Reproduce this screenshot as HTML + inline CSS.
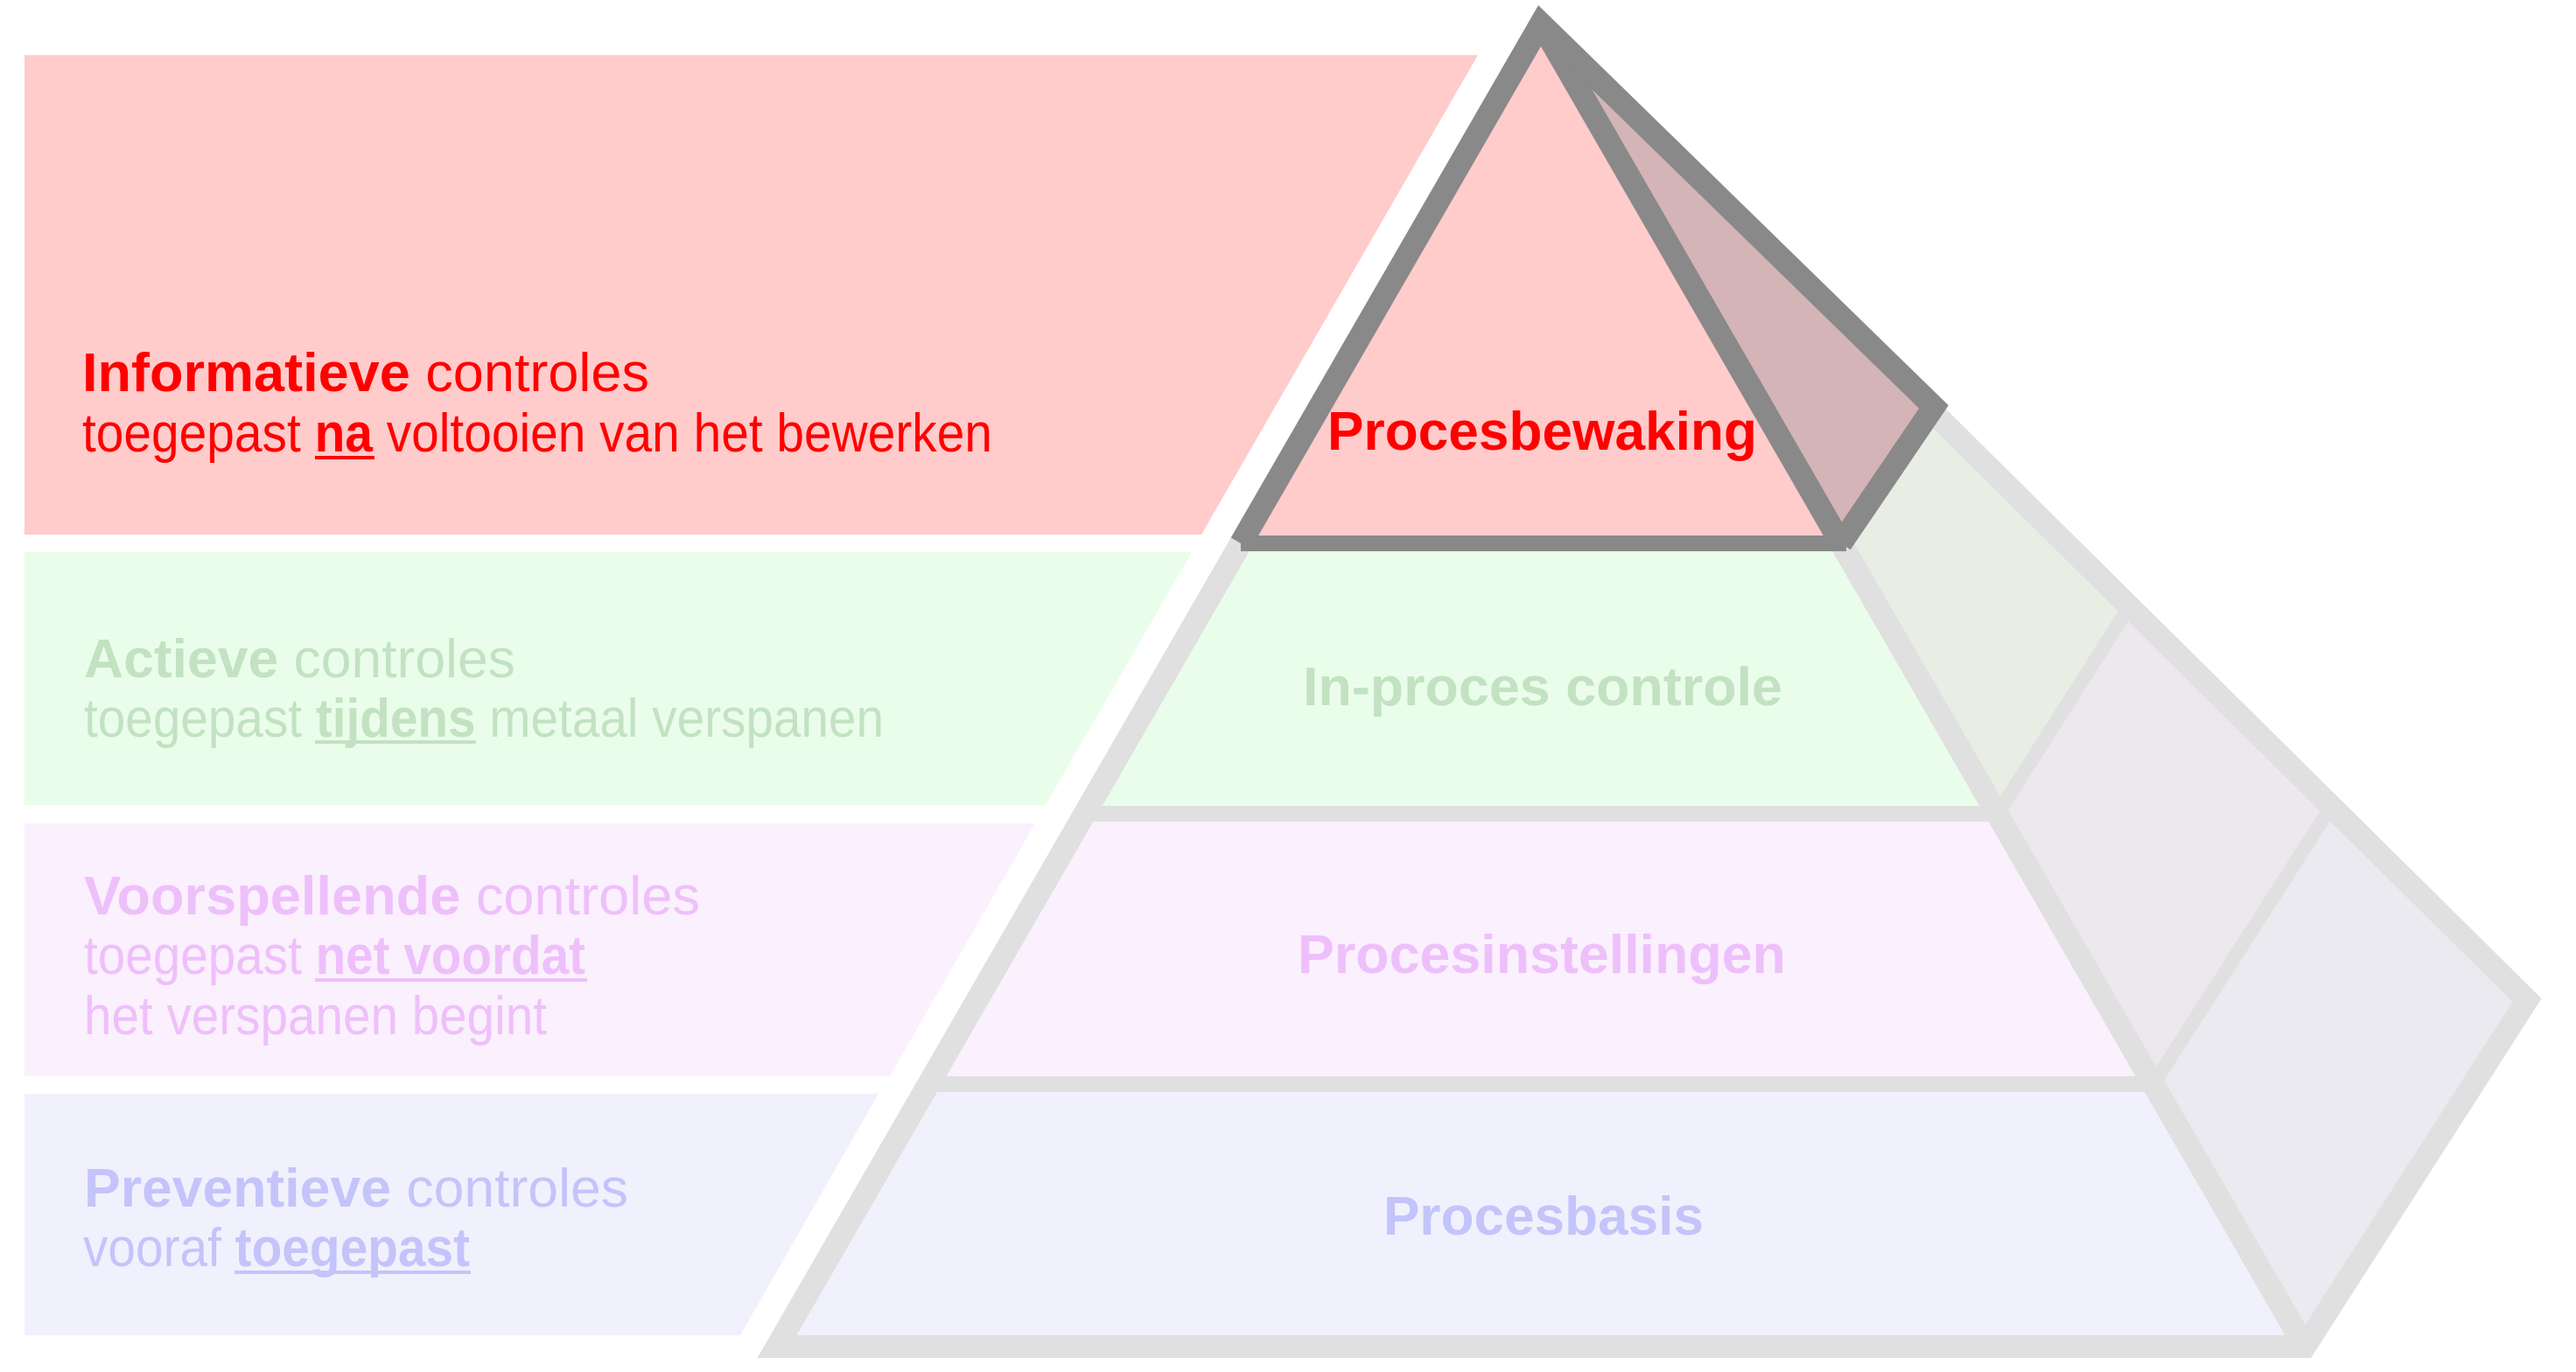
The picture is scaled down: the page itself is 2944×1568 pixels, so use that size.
<!DOCTYPE html>
<html><head><meta charset="utf-8"><style>
html,body{margin:0;padding:0;background:#fff;}
svg{display:block;}
text{font-family:"Liberation Sans",Arial,sans-serif;font-size:62px;}
</style></head><body>
<svg width="2944" height="1568" viewBox="0 0 2944 1568" xmlns="http://www.w3.org/2000/svg">
<rect width="2944" height="1568" fill="#fff"/>
<polygon points="28,63 1689,63 1373,611 28,611" fill="#ffcbcb"/>
<polygon points="28,631 1362,631 1195,920 28,920" fill="#eafdea"/>
<polygon points="28,941 1183,941 1017,1230 28,1230" fill="#fbf0fd"/>
<polygon points="28,1250 1004,1250 846,1526 28,1526" fill="#f1f1fd"/>

<polygon points="1418,621 2104,621 2283,930 1239,930" fill="#eafdea"/>
<polygon points="1239,930 2283,930 2461,1239 1061,1239" fill="#fbf0fd"/>
<polygon points="1061,1239 2461,1239 2634,1539 888,1539" fill="#f1f1fd"/>
<polygon points="2104,621 2203,465 2433,694 2283,930" fill="#e8eee4"/>
<polygon points="2283,930 2433,694 2664,922 2461,1239" fill="#ede8ee"/>
<polygon points="2461,1239 2664,922 2888,1143 2634,1539" fill="#ebeaf0"/>

<g stroke="#e0e0e0" fill="none" stroke-linejoin="miter" stroke-miterlimit="10">
<line x1="1239" y1="930" x2="2283" y2="930" stroke-width="18"/>
<line x1="1061" y1="1239" x2="2461" y2="1239" stroke-width="18"/>
<line x1="2283" y1="930" x2="2433" y2="694" stroke-width="16"/>
<line x1="2461" y1="1239" x2="2664" y2="922" stroke-width="16"/>
<line x1="2104" y1="621" x2="2634" y2="1539" stroke-width="26"/>
<path d="M1418,621 L888,1539 L2634,1539 L2888,1143 L2203,465" stroke-width="26"/>
</g>

<polygon points="1761,27 1418,621 2104,621" fill="#ffcbcb"/>
<polygon points="1761,27 2203,465 2104,621" fill="#d4b4b6"/>
<g stroke="#898989" fill="none" stroke-linejoin="miter" stroke-miterlimit="10">
<line x1="1418" y1="621" x2="2110" y2="621" stroke-width="18"/>
<line x1="1761" y1="27" x2="2104" y2="621" stroke-width="26"/>
<path d="M1418,621 L1761,27 L2210,465 L2104,621" stroke-width="26"/>
</g>

<g font-weight="bold">
<text x="1517" y="514" fill="#ff0000" textLength="491" lengthAdjust="spacingAndGlyphs">Procesbewaking</text>
<text x="1489" y="806" fill="#c2e2c2" textLength="548" lengthAdjust="spacingAndGlyphs">In-proces controle</text>
<text x="1483" y="1112" fill="#eec0fb" textLength="558" lengthAdjust="spacingAndGlyphs">Procesinstellingen</text>
<text x="1581" y="1411" fill="#c4c4fb" textLength="366" lengthAdjust="spacingAndGlyphs">Procesbasis</text>
</g>

<g fill="#ff0000">
<text x="94" y="447" textLength="648" lengthAdjust="spacingAndGlyphs"><tspan font-weight="bold">Informatieve</tspan> controles</text>
<text x="94" y="516" textLength="1040" lengthAdjust="spacingAndGlyphs">toegepast <tspan font-weight="bold">na</tspan> voltooien van het bewerken</text>
<rect x="360" y="521" width="68" height="4"/>
</g>
<g fill="#c2e2c2">
<text x="96" y="774" textLength="493" lengthAdjust="spacingAndGlyphs"><tspan font-weight="bold">Actieve</tspan> controles</text>
<text x="96" y="842" textLength="914" lengthAdjust="spacingAndGlyphs">toegepast <tspan font-weight="bold">tijdens</tspan> metaal verspanen</text>
<rect x="360" y="846" width="184" height="4"/>
</g>
<g fill="#eec0fb">
<text x="96" y="1045" textLength="704" lengthAdjust="spacingAndGlyphs"><tspan font-weight="bold">Voorspellende</tspan> controles</text>
<text x="96" y="1113" textLength="573" lengthAdjust="spacingAndGlyphs">toegepast <tspan font-weight="bold">net voordat</tspan></text>
<rect x="360" y="1118" width="311" height="4"/>
<text x="96" y="1182" textLength="529" lengthAdjust="spacingAndGlyphs">het verspanen begint</text>
</g>
<g fill="#c4c4fb">
<text x="96" y="1379" textLength="622" lengthAdjust="spacingAndGlyphs"><tspan font-weight="bold">Preventieve</tspan> controles</text>
<text x="95" y="1447" textLength="442" lengthAdjust="spacingAndGlyphs">vooraf <tspan font-weight="bold">toegepast</tspan></text>
<rect x="268" y="1452" width="270" height="4"/>
</g>
</svg>
</body></html>
